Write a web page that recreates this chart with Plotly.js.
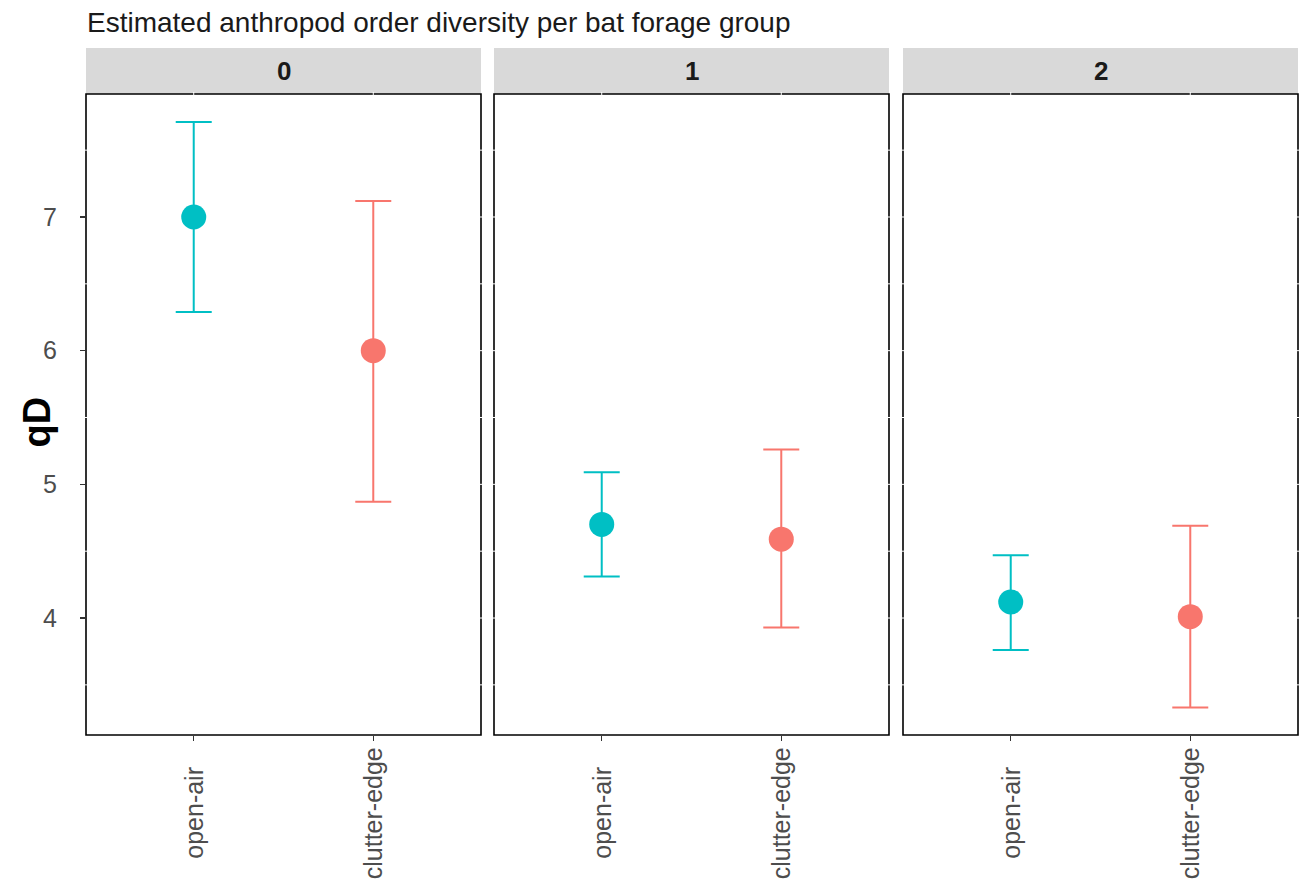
<!DOCTYPE html>
<html>
<head>
<meta charset="utf-8">
<script src="https://cdn.plot.ly/plotly-3.0.1.min.js"></script>
<style>html,body{margin:0;padding:0;background:#fff;}#chart{width:1306px;height:886px;}</style>
</head>
<body>
<div id="chart"></div>
<script>
const panels = ["0", "1", "2"];
const groups = ["open-air", "clutter-edge"];
const colors = ["#00BFC4", "#F8766D"];
// qD estimate, lower CI, upper CI per panel (order q), per group
const qD    = [[7.00, 6.00], [4.70, 4.59], [4.12, 4.01]];
const lower = [[6.29, 4.87], [4.31, 3.93], [3.76, 3.33]];
const upper = [[7.71, 7.12], [5.09, 5.26], [4.47, 4.69]];
const yTicks = [4, 5, 6, 7];
const yMinor = [3.5, 4.5, 5.5, 6.5, 7.5];
const titleText = "Estimated anthropod order diversity per bat forage group";
const yTitle = "qD";

const FONT = "Liberation Sans, Arial, sans-serif";
const W = 1306, H = 886;
const mL = 86, mR = 8, mT = 94, mB = 151;
const pw = W - mL - mR, ph = H - mT - mB;
const panelPx = [[0, 395], [408, 803], [817, 1212]];
const stripH = 46;
const TICK = 25;
const gapX = 2 / pw, gapY = 2 / ph;

const data = [];
const layout = {
  width: W, height: H,
  margin: {l: mL, r: mR, t: mT, b: mB},
  paper_bgcolor: "#fff", plot_bgcolor: "#fff",
  showlegend: false,
  font: {family: FONT, color: "#4d4d4d"},
  title: {text: titleText, x: 87 / W, xanchor: "left", xref: "container", y: 1 - 22 / H, yanchor: "middle",
          yref: "container", font: {family: FONT, size: 28, color: "#1a1a1a"}},
  shapes: [], annotations: []
};

panels.forEach((p, i) => {
  const xa = i === 0 ? "x" : "x" + (i + 1);
  const ya = i === 0 ? "y" : "y" + (i + 1);
  groups.forEach((g, j) => {
    data.push({
      type: "scatter", mode: "markers",
      x: [g], y: [qD[i][j]],
      xaxis: xa, yaxis: ya,
      marker: {color: colors[j], size: 25, line: {width: 0}},
      error_y: {type: "data", symmetric: false,
                array: [upper[i][j] - qD[i][j]], arrayminus: [qD[i][j] - lower[i][j]],
                color: colors[j], thickness: 2, width: 18},
      hoverinfo: "skip"
    });
    // rotated category label, centred like ggplot's angle = 90 text
    layout.annotations.push({text: g, xref: xa, yref: "paper", x: j, y: -78 / ph,
                             xanchor: "center", yanchor: "middle", textangle: -90, showarrow: false,
                             font: {family: FONT, size: TICK, color: "#4d4d4d"}});
  });
  const dom = [panelPx[i][0] / pw, panelPx[i][1] / pw];
  layout["xaxis" + (i === 0 ? "" : i + 1)] = {
    domain: dom, type: "category", categoryorder: "array", categoryarray: groups,
    range: [-0.6, 1.6], anchor: ya,
    showgrid: false, zeroline: false, showline: false,
    ticks: "outside", ticklen: 5, tickwidth: 1.3, tickcolor: "#333",
    showticklabels: false,
    fixedrange: true
  };
  layout["yaxis" + (i === 0 ? "" : i + 1)] = {
    domain: [0, 1], range: [3.125, 7.92], anchor: xa,
    matches: i === 0 ? undefined : "y",
    showgrid: false, zeroline: false, showline: false,
    tickvals: yTicks, showticklabels: i === 0,
    ticks: i === 0 ? "outside" : "", ticklen: 5, tickwidth: 1.3, tickcolor: "#333",
    ticklabelstandoff: 18,
    tickfont: {family: FONT, size: TICK, color: "#4d4d4d"},
    fixedrange: true
  };
  // panel border
  layout.shapes.push({type: "rect", xref: xa + " domain", yref: ya + " domain", x0: 0, x1: 1, y0: 0, y1: 1,
                      line: {color: "#000", width: 1.6}, layer: "above"});
  // white grid lines peeking through the border (ggplot grid drawn over it)
  groups.forEach((g, j) => {
    layout.shapes.push({type: "line", xref: xa, yref: ya + " domain", x0: j, x1: j, y0: 1 - gapY, y1: 1 + gapY,
                        line: {color: "#fff", width: 1}, layer: "above"});
  });
  yTicks.concat(yMinor).forEach(v => {
    const major = yTicks.indexOf(v) >= 0;
    if (!(i === 0 && major)) {
      layout.shapes.push({type: "line", xref: xa + " domain", yref: ya, x0: -gapX * 2.2, x1: gapX * 2.2, y0: v, y1: v,
                          line: {color: "#fff", width: 1}, layer: "above"});
    }
    layout.shapes.push({type: "line", xref: xa + " domain", yref: ya, x0: 1 - gapX * 2.2, x1: 1 + gapX * 2.2, y0: v, y1: v,
                        line: {color: "#fff", width: 1}, layer: "above"});
  });
  // strip
  layout.shapes.push({type: "rect", xref: xa + " domain", yref: "paper", x0: 0, x1: 1,
                      y0: 1, y1: 1 + stripH / ph, fillcolor: "#D9D9D9", line: {width: 0}, layer: "below"});
  layout.annotations.push({text: "<b>" + p + "</b>", xref: xa + " domain", yref: "paper", x: 0.5, y: 1 + stripH / 2 / ph,
                           xanchor: "center", yanchor: "middle", showarrow: false,
                           font: {family: FONT, size: 26, color: "#1a1a1a"}});
});

layout.annotations.push({text: "<b>" + yTitle + "</b>", xref: "paper", yref: "paper", x: -49 / pw, y: 0.5 - 8 / ph,
                         xanchor: "center", yanchor: "middle", textangle: -90, showarrow: false,
                         font: {family: FONT, size: 38, color: "#000"}});

Plotly.newPlot("chart", data, layout, {displayModeBar: false, staticPlot: true});
</script>
</body>
</html>
